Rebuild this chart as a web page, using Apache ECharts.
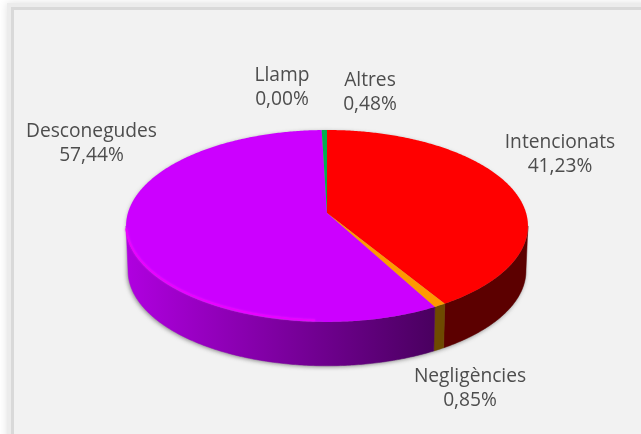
<!DOCTYPE html>
<html><head><meta charset="utf-8">
<style>html,body{margin:0;padding:0;background:#fff}#c{width:641px;height:434px}</style>
<script src="https://cdn.jsdelivr.net/npm/echarts@6/dist/echarts.min.js"></script>
</head><body><div id="c"></div>
<script>
const categories = ['Intencionats','Negligències','Desconegudes','Llamp','Altres'];
const percentages = [41.23,0.85,57.44,0.00,0.48];

// layout and style, separate from the data
const topColors = ['#ff0000','#ff9900','#cc00ff','#ffc000','#00b050'];
const wallColors = [
  '#5c0000','#6e4a00',
  {type:'linear',x:126,y:0,x2:433,y2:0,global:true,colorStops:[{offset:0,color:'#b000e0'},{offset:1,color:'#4a0060'}]},
  '#7a5c00','#006030'
];
const labelCentres = [[560,155],[470,389],[91.5,144],[282,88],[370,93]];
const CX=327, AY=213, B=199.1, A=94.2, C=0.135, DEPTH=45, SHRINK=0.99;
const FONT='"Open Sans"';

function project(theta, dy, k){
  const u=Math.sin(theta), v=-Math.cos(theta), w=1-C*v;
  return [CX+k*B*u/w, AY+dy+k*A*v/w];
}
const total = percentages.reduce((a,b)=>a+b,0);
const starts=[]; percentages.reduce((a,b,i)=>(starts[i]=a,a+b),0);
const rows = percentages.map((p,i)=>[i,starts[i],p]);
const TAU=Math.PI*2;
function arc(t0,t1,dy,k){
  const n=Math.max(2,Math.ceil((t1-t0)/0.01)), pts=[];
  for(let j=0;j<=n;j++) pts.push(project(t0+(t1-t0)*j/n,dy,k));
  return pts;
}
const angles=(api)=>{const s=api.value(1),p=api.value(2);return [s/total*TAU,(s+p)/total*TAU];};
const T_R=Math.acos(-C), T_L=TAU-Math.acos(-C);

const option={
  animation:false,
  backgroundColor:'#ffffff',
  graphic:[
    {type:'rect',z:-4,shape:{x:14,y:10,width:720,height:520},
     style:{fill:'#f2f2f2',stroke:'#ececec',lineWidth:14,shadowBlur:8,shadowColor:'rgba(0,0,0,0.12)'}},
    {type:'rect',z:-3,shape:{x:14,y:10,width:720,height:520},
     style:{fill:'#f2f2f2',stroke:'#d9d9d9',lineWidth:6}},
    {type:'rect',z:-2,shape:{x:14,y:10,width:720,height:520},style:{fill:'#f2f2f2'}}
  ],
  series:[
    {type:'custom',coordinateSystem:'none',z:1,silent:true,data:[[0]],
     renderItem(){
       return {type:'polygon',shape:{points:arc(T_R,T_L,DEPTH,SHRINK).concat(arc(T_L,T_R+TAU,0,SHRINK))},
         style:{fill:'#999',shadowBlur:4,shadowColor:'rgba(60,60,60,0.6)',shadowOffsetX:-1,shadowOffsetY:1}};
     }},
    {type:'custom',coordinateSystem:'none',z:2,silent:true,data:rows,
     renderItem(params,api){
       const [a,b]=angles(api), t0=Math.max(a,T_R), t1=Math.min(b,T_L);
       if(b<=a||t1<=t0) return {type:'group',children:[]};
       const up=arc(t0,t1,0,1), low=arc(t0,t1,DEPTH,SHRINK).reverse();
       return {type:'polygon',shape:{points:up.concat(low)},
         style:{fill:wallColors[api.value(0)],stroke:wallColors[api.value(0)],lineWidth:0.5}};
     }},
    {type:'custom',coordinateSystem:'none',z:3,silent:true,data:rows,
     renderItem(params,api){
       const i=api.value(0), [a,b]=angles(api);
       if(b<=a) return {type:'group',children:[]};
       const kids=[{type:'polygon',shape:{points:[[CX,AY]].concat(arc(a,b,0,1))},style:{fill:topColors[i]}}];
       if(i===2){ // soft bright bevel along the front rim of the large slice
         const t0=a+0.55, t1=Math.min(b,T_L-0.04);
         kids.push({type:'polyline',shape:{points:arc(t0,t1,-1.5,1)},
           style:{fill:'none',stroke:'#ea00ff',lineWidth:1.5,shadowBlur:2,shadowColor:'#f020ff'}});
       }
       return {type:'group',children:kids};
     }},
    {type:'custom',coordinateSystem:'none',z:4,silent:true,data:rows,
     renderItem(params,api){
       const i=api.value(0), p=api.value(2), c=labelCentres[i];
       return {type:'text',x:c[0],y:c[1],
         style:{text:categories[i]+'\n'+p.toFixed(2).replace('.',',')+'%',
           x:0,y:0,align:'center',verticalAlign:'middle',
           font:'400 19.2px '+FONT,lineHeight:24,fill:'#4d4d4d'}};
     }}
  ]
};
const chart=echarts.init(document.getElementById('c'),null,{renderer:'canvas'});
chart.setOption(option);
</script></body></html>
